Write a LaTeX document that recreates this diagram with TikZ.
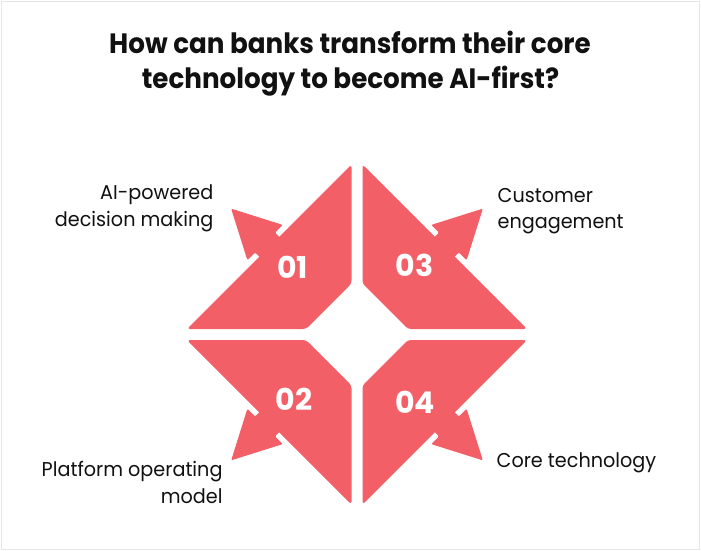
\documentclass[tikz,border=0pt]{standalone}
\usepackage{fontspec}
\setmainfont{Poppins}
\newfontfamily\titlefont{Poppins}[FakeStretch=0.935]
\newfontfamily\labelfont{Poppins}[FakeStretch=0.96]
\definecolor{arrowred}{RGB}{243,95,103}
\definecolor{inkblack}{RGB}{17,17,17}
\definecolor{framegray}{RGB}{230,230,230}
\newcommand\quadpiece{%
  \fill[arrowred, rounded corners=3pt] (5.5,51) -- (5.5,170) -- (170,5.5) -- (51,5.5) -- cycle;
  \begin{scope}[rotate=-45]
    \fill[arrowred, rounded corners=1.2pt] (118,14) -- (130,14) -- (130,25) -- (178,0) -- (130,-25) -- (130,-14) -- (118,-14) -- cycle;
  \end{scope}
}
\tikzset{
  titletext/.style={font=\titlefont\bfseries\fontsize{28}{34}\selectfont, text=inkblack, inner sep=0pt, anchor=base},
  labeltext/.style={font=\labelfont\fontsize{20}{26}\selectfont, text=inkblack, inner sep=0pt},
  numtext/.style={font=\bfseries\fontsize{30}{30}\selectfont, text=white, inner sep=0pt, anchor=center},
}
\begin{document}
\begin{tikzpicture}[x=1pt,y=-1pt]
\useasboundingbox (0,0) rectangle (701,551);
\fill[white] (0,0) rectangle (701,551);
\draw[framegray, line width=1pt] (1.5,2) rectangle (699.5,549.5);

\node[titletext] (t1) at (350,53.3) {How can banks transform their core};
\node[titletext] (t2) at (350.5,88.3) {technology to become AI-first?};

\begin{scope}[shift={(357,334.5)}, xscale=-1, yscale=-1] \quadpiece \end{scope}
\begin{scope}[shift={(357,334.5)}, xscale=1, yscale=-1] \quadpiece \end{scope}
\begin{scope}[shift={(357,334.5)}, xscale=-1, yscale=1] \quadpiece \end{scope}
\begin{scope}[shift={(357,334.5)}, xscale=1, yscale=1] \quadpiece \end{scope}

\node[numtext] (n1) at (292.5,267.5) {01};
\node[numtext] (n3) at (414.7,265.5) {03};
\node[numtext] (n2) at (293.8,399) {02};
\node[numtext] (n4) at (415,402) {04};

\node[labeltext, anchor=base east] (l1a) at (213.5,199.8) {AI-powered};
\node[labeltext, anchor=base east] (l1b) at (213.5,226) {decision making};
\node[labeltext, anchor=base west] (l3a) at (497.5,202.3) {Customer};
\node[labeltext, anchor=base west] (l3b) at (497.5,228.8) {engagement};
\node[labeltext, anchor=base east] (l2a) at (222.7,476.7) {Platform operating};
\node[labeltext, anchor=base east] (l2b) at (222.7,503.3) {model};
\node[labeltext, anchor=base west] (l4a) at (496.5,467) {Core technology};
\end{tikzpicture}
\end{document}
